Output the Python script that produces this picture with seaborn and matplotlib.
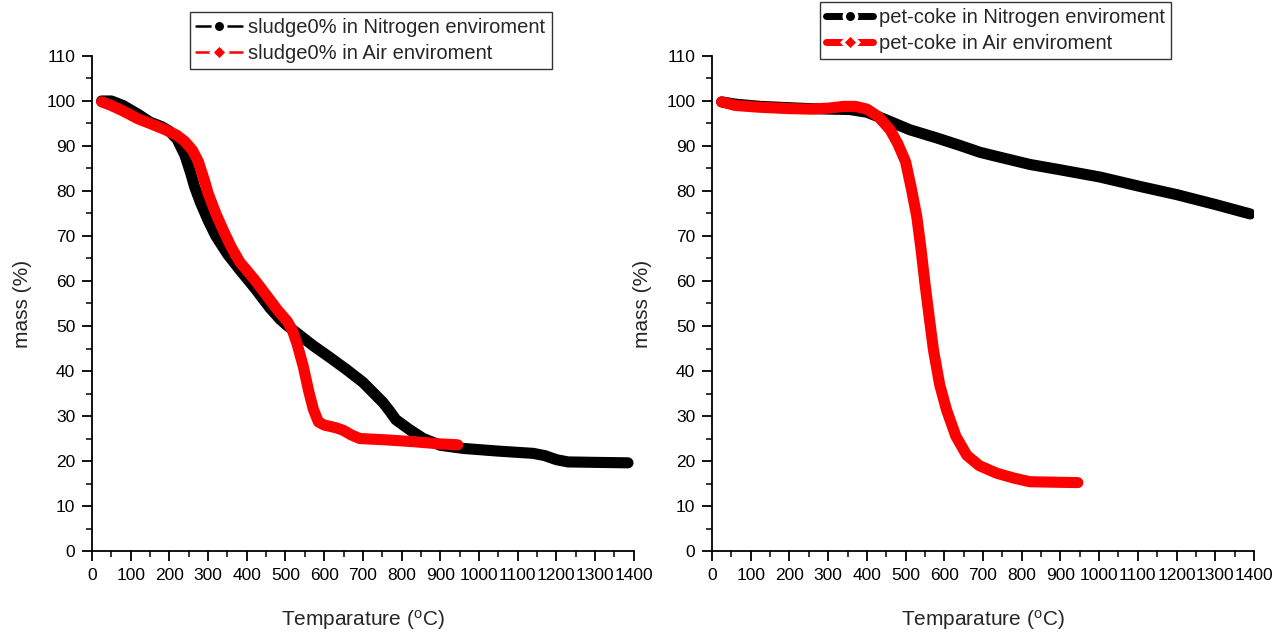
import pandas as pd
import matplotlib
matplotlib.use("Agg")
import matplotlib.pyplot as plt
import seaborn as sns
from matplotlib.lines import Line2D
from matplotlib.ticker import MultipleLocator

# --- data (temperature in degC, mass in %) ---
sludge_n2_temp = [25, 50, 80, 100, 120, 150, 180, 200, 220, 240, 255, 265, 280, 300, 320,
                  350, 380, 420, 460, 486, 503, 530, 572, 615, 658, 700, 752, 770, 785,
                  820, 856, 900, 959, 1050, 1140, 1170, 1200, 1230, 1300, 1385]
sludge_n2_mass = [100, 100, 99, 98, 97, 95.3, 94.3, 93.3, 91.5, 88, 84, 81, 77.5, 73.5, 70,
                  66, 62.7, 58.5, 54, 51.5, 50.2, 48.4, 45.6, 43, 40.3, 37.5, 33, 31, 29.2,
                  27, 25, 23.5, 22.8, 22.2, 21.7, 21.2, 20.3, 19.8, 19.7, 19.6]

sludge_air_temp = [25, 50, 80, 120, 150, 190, 219, 240, 260, 275, 290, 300, 320, 339, 360,
                   382, 420, 451, 480, 505, 518, 530, 546, 560, 572, 585, 600, 630, 650,
                   670, 692, 760, 830, 900, 945]
sludge_air_mass = [99.8, 99, 97.8, 96, 95, 93.6, 92.4, 91, 89, 86.5, 82.5, 79.5, 75, 71.3, 67.5,
                   64.2, 60.3, 56.8, 53.5, 51, 49, 46, 41, 35.5, 31.5, 28.7, 28, 27.4, 26.8,
                   25.8, 25, 24.7, 24.3, 23.8, 23.6]

coke_n2_temp = [25, 60, 124, 200, 253, 300, 356, 400, 450, 511, 580, 641, 692, 744, 821,
                900, 1002, 1106, 1200, 1300, 1390]
coke_n2_mass = [99.8, 99.3, 98.8, 98.5, 98.3, 98.2, 98.1, 97.5, 95.8, 93.6, 91.8, 90.1, 88.6,
                87.5, 85.9, 84.7, 83.1, 81, 79.2, 77, 74.9]

coke_air_temp = [25, 60, 124, 200, 253, 300, 340, 370, 400, 430, 460, 480, 500, 515, 529,
                 540, 550, 561, 572, 588, 606, 630, 658, 690, 735, 780, 821, 880, 945]
coke_air_mass = [99.8, 99, 98.6, 98.3, 98.2, 98.4, 98.8, 98.8, 98.2, 96.5, 93.6, 90.5, 86.5,
                 80.5, 74.3, 67, 59.5, 52, 44.7, 37, 31.3, 25.5, 21.3, 19, 17.3, 16.2, 15.4,
                 15.3, 15.2]

sns.set_theme(style="ticks")
plt.rcParams['font.family'] = ['Liberation Sans', 'DejaVu Sans']
plt.rcParams['mathtext.default'] = 'regular'

fig = plt.figure(figsize=(12.88, 6.36), dpi=100)
ax1 = fig.add_axes([0.0714, 0.1336, 0.4207, 0.7784])
ax2 = fig.add_axes([0.5528, 0.1336, 0.4208, 0.7784])

panels = [
    (ax1, sludge_n2_temp, sludge_n2_mass, sludge_air_temp, sludge_air_mass,
     'sludge0% in Nitrogen enviroment', 'sludge0% in Air enviroment', 1.8, (0.1475, 0.981)),
    (ax2, coke_n2_temp, coke_n2_mass, coke_air_temp, coke_air_mass,
     'pet-coke in Nitrogen enviroment', 'pet-coke in Air enviroment', 5, (0.637, 0.997)),
]

for ax, tn, mn, ta, ma, lab_n, lab_a, leg_lw, anchor in panels:
    df_n = pd.DataFrame({'temp': tn, 'mass': mn})
    df_a = pd.DataFrame({'temp': ta, 'mass': ma})
    sns.lineplot(data=df_n, x='temp', y='mass', ax=ax, color='black', linewidth=8,
                 sort=False, solid_capstyle='round', solid_joinstyle='round')
    sns.lineplot(data=df_a, x='temp', y='mass', ax=ax, color='#ff0000', linewidth=8,
                 sort=False, solid_capstyle='round', solid_joinstyle='round')

    ax.set_xlim(0, 1400)
    ax.set_ylim(0, 110)
    ax.xaxis.set_major_locator(MultipleLocator(100))
    ax.xaxis.set_minor_locator(MultipleLocator(50))
    ax.yaxis.set_major_locator(MultipleLocator(10))
    ax.yaxis.set_minor_locator(MultipleLocator(5))
    ax.tick_params(which='major', direction='out', length=7, width=1.3, labelsize=12.5,
                   colors='black', pad=5)
    ax.tick_params(which='minor', direction='out', length=4, width=1.3)
    for s in ['top', 'right']:
        ax.spines[s].set_visible(False)
    for s in ['left', 'bottom']:
        ax.spines[s].set_linewidth(1.3)
        ax.spines[s].set_color('black')
    ax.set_xlabel(r'Temparature ($^{o}$C)', fontsize=15, labelpad=18)
    ax.set_ylabel('mass (%)', fontsize=15, labelpad=10)

    handles = [
        Line2D([0], [0], color='black', lw=leg_lw, marker='o', markersize=9,
               markerfacecolor='black', markeredgecolor='white', markeredgewidth=2.5),
        Line2D([0], [0], color='#ff0000', lw=leg_lw, marker='D', markersize=8.5,
               markerfacecolor='#ff0000', markeredgecolor='white', markeredgewidth=2.5),
    ]
    fig.legend(handles, [lab_n, lab_a], loc='upper left', bbox_to_anchor=anchor,
               fontsize=14.5, frameon=True, fancybox=False, edgecolor='black',
               handlelength=2.3, handletextpad=0.3, borderpad=0.3, labelspacing=0.35,
               borderaxespad=0)

fig.savefig('out.png', dpi=100)
